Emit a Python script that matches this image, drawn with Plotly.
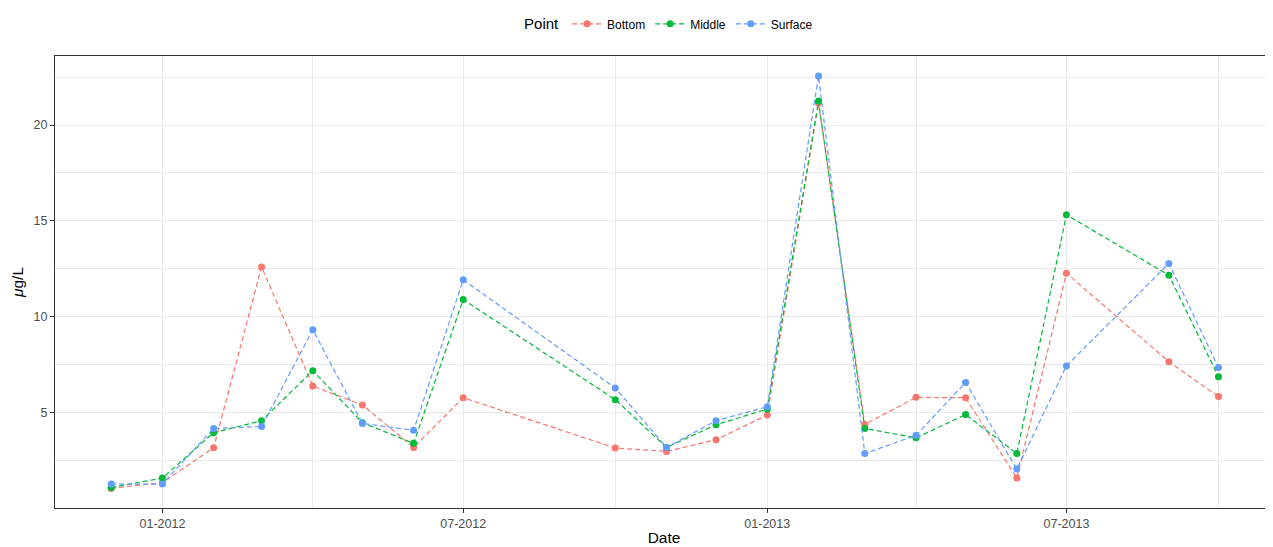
import plotly.graph_objects as go

# sampling dates (first of each month)
dates = ["2011-12-01", "2012-01-01", "2012-02-01", "2012-03-01", "2012-04-01",
         "2012-05-01", "2012-06-01", "2012-07-01", "2012-10-01", "2012-11-01",
         "2012-12-01", "2013-01-01", "2013-02-01", "2013-03-01", "2013-04-01",
         "2013-05-01", "2013-06-01", "2013-07-01", "2013-09-01", "2013-10-01"]

bottom = [1.05, 1.36, 3.17, 12.6, 6.39, 5.40, 3.19, 5.78, 3.16, 2.98,
          3.59, 4.88, 21.15, 4.39, 5.80, 5.78, 1.59, 12.27, 7.66, 5.84]
middle = [1.10, 1.59, 3.96, 4.58, 7.19, 4.48, 3.40, 10.9, 5.68, 3.19,
          4.37, 5.19, 21.25, 4.18, 3.69, 4.90, 2.87, 15.32, 12.17, 6.88]
surface = [1.28, 1.28, 4.18, 4.28, 9.32, 4.44, 4.08, 11.93, 6.29, 3.19,
           4.58, 5.31, 22.56, 2.87, 3.82, 6.58, 2.06, 7.44, 12.78, 7.35]

series = [("Bottom", bottom, "#F8766D"),
          ("Middle", middle, "#00BA38"),
          ("Surface", surface, "#619CFF")]

fig = go.Figure()
for name, vals, col in series:
    fig.add_trace(go.Scatter(
        x=dates, y=vals, name=name, mode="lines+markers",
        line=dict(color=col, width=1.2, dash="5px,3px"),
        marker=dict(color=col, size=7),
    ))

# page has an 8px body margin, so the figure is a bit smaller than the window
fig.update_layout(
    width=1265, height=539,
    margin=dict(l=47, r=0, t=48, b=39),
    paper_bgcolor="white", plot_bgcolor="white",
    font=dict(family="Liberation Sans, Arial, sans-serif", color="#000000"),
    legend=dict(
        orientation="h", x=0.505, xanchor="center", y=1.07, yanchor="middle",
        title=dict(text="Point", font=dict(size=15)),
        font=dict(size=12), itemwidth=30, tracegroupgap=0,
    ),
)

fig.update_xaxes(
    type="date", range=["2011-10-28", "2013-11-03"],
    tick0="2012-01-01", dtick="M6", tickformat="%m-%Y",
    showgrid=True, gridcolor="#EBEBEB", gridwidth=1.1,
    minor=dict(dtick="M3", tick0="2012-01-01", showgrid=True,
               gridcolor="#EBEBEB", gridwidth=0.6),
    showline=True, linecolor="#333333", linewidth=1, mirror=True,
    ticks="outside", ticklen=4, tickcolor="#333333",
    tickfont=dict(size=12.5, color="#4D4D4D"),
    title=dict(text="Date", font=dict(size=15.5), standoff=2),
    zeroline=False,
)
fig.update_yaxes(
    range=[0.03, 23.6],
    tickvals=[5, 10, 15, 20],
    showgrid=True, gridcolor="#EBEBEB", gridwidth=1.1,
    minor=dict(tickvals=[2.5, 7.5, 12.5, 17.5, 22.5], showgrid=True,
               gridcolor="#EBEBEB", gridwidth=0.6),
    showline=True, linecolor="#333333", linewidth=1, mirror=True,
    ticks="outside", ticklen=4, tickcolor="#333333",
    tickfont=dict(size=12.5, color="#4D4D4D"),
    title=dict(text="<i>μ</i>g/L", font=dict(size=15.5), standoff=6),
    zeroline=False,
)

fig.write_html("out.html")
